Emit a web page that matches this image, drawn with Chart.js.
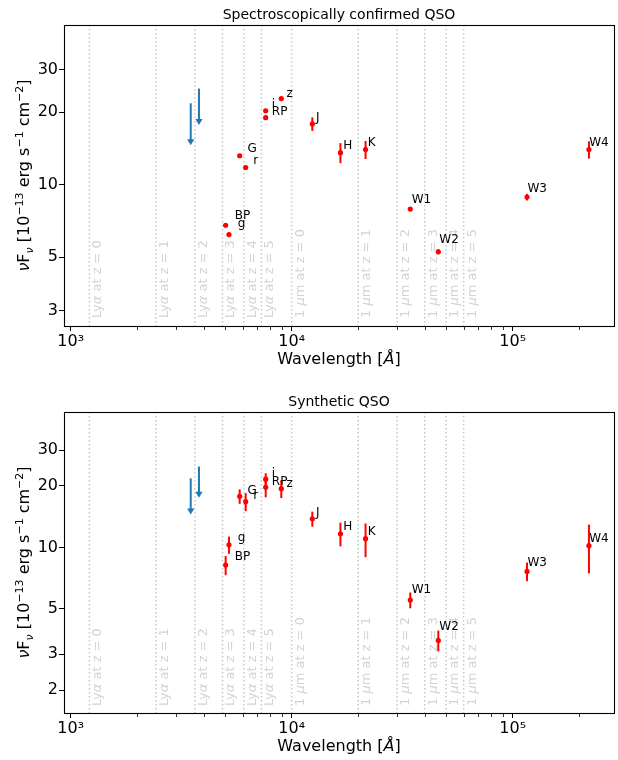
<!DOCTYPE html>
<html><head><meta charset="utf-8">
<script src="https://cdn.jsdelivr.net/npm/chart.js@4/dist/chart.umd.min.js"></script>
<style>
html,body{margin:0;padding:0;background:#fff;overflow:hidden;width:618px;height:760px}
canvas{position:absolute;left:0}
</style></head><body>
<canvas id="c1" width="618" height="380" style="top:0px"></canvas>
<canvas id="c2" width="618" height="380" style="top:387px"></canvas>
<script>
// ---------------- DATA ----------------
const bands       = ['BP','g','G','r','i','RP','z','J','H','K','W1','W2','W3','W4'];
const wavelengths = [5027, 5203, 5817, 6193, 7630, 7630, 8974, 12400, 16620, 21590, 34400, 46070, 116100, 221300];

const specFlux = [6.79, 6.21, 13.2, 11.8, 20.3, 19.0, 22.8, 17.9, 13.6, 14.0, 7.93, 5.27, 8.89, 14.0];
const specErr  = [0.12, 0.1, 0.15, 0.15, 0.2, 0.2, 0.25, 1.15, 1.3, 1.2, 0.12, 0.13, 0.28, 1.15];

const synFlux  = [8.19, 10.3, 17.8, 16.75, 21.6, 19.7, 19.4, 13.8, 11.67, 11.03, 5.52, 3.50, 7.63, 10.2];
const synErr   = [0.88, 1.0, 1.45, 1.7, 1.5, 2.1, 1.95, 1.17, 1.55, 2.07, 0.49, 0.41, 0.8, 2.74];

const ulWave    = [3493, 3806];
const specUlTop = [21.8, 25.1];
const specUlTip = [14.6, 17.7];
const synUlTop  = [21.8, 24.9];
const synUlTip  = [14.5, 17.5];

const xTicks      = [1000, 10000, 100000];
const xTickLabels = ['10\u00B3', '10\u2074', '10\u2075'];
const xMinorTicks = [2000,3000,4000,5000,6000,7000,8000,9000,20000,30000,40000,50000,60000,70000,80000,90000,200000];
const specYTicks  = [3, 5, 10, 20, 30];
const synYTicks   = [2, 3, 5, 10, 20, 30];

const lyaRest    = 1216;
const micronRest = 10000;
const redshifts  = [0, 1, 2, 3, 4, 5];

const titles = ['Spectroscopically confirmed QSO', 'Synthetic QSO'];

// ---------------- STYLE ----------------
const FONT = "'DejaVu Sans'";
const LABEL_DX = 500;   // Angstrom offset of band labels
const LABEL_DY = 0.45;  // flux offset of band labels

function drawRich(ctx, segs, x, y) {
  let cx = x;
  for (const s of segs) {
    ctx.font = s[1];
    ctx.fillText(s[0], cx, y + (s[2] || 0));
    cx += ctx.measureText(s[0]).width;
  }
}
function richWidth(ctx, segs) {
  let w = 0;
  for (const s of segs) { ctx.font = s[1]; w += ctx.measureText(s[0]).width; }
  return w;
}

function makePlugin(p) {
  return {
    id: 'sedDecor',
    beforeDatasetsDraw(chart) {
      const ctx = chart.ctx, a = chart.chartArea, xs = chart.scales.x, ys = chart.scales.y;
      ctx.save();
      // vertical reference lines
      const lines = [];
      redshifts.forEach(z => lines.push({w: lyaRest * (1 + z), segs: [['Ly', `13px ${FONT}`], ['\u03B1', `italic 13px ${FONT}`], [' at z = ' + z, `13px ${FONT}`]]}));
      redshifts.forEach(z => lines.push({w: micronRest * (1 + z), segs: [['1 ', `13px ${FONT}`], ['\u03BC', `italic 13px ${FONT}`], ['m at z = ' + z, `13px ${FONT}`]]}));
      ctx.strokeStyle = '#c8c8c8';
      ctx.lineWidth = 1.5;
      ctx.setLineDash([1.5, 2.5]);
      lines.forEach(l => {
        const px = xs.getPixelForValue(l.w);
        ctx.beginPath(); ctx.moveTo(px, a.top); ctx.lineTo(px, a.bottom); ctx.stroke();
      });
      ctx.setLineDash([]);
      ctx.fillStyle = '#d3d3d3';
      ctx.textBaseline = 'top';
      ctx.textAlign = 'left';
      lines.forEach(l => {
        const px = xs.getPixelForValue(l.w);
        ctx.save();
        ctx.translate(px + 2, a.bottom - p.textBottom);
        ctx.rotate(-Math.PI / 2);
        drawRich(ctx, l.segs, 0, 0);
        ctx.restore();
      });
      // error bars
      ctx.strokeStyle = '#ff0000';
      ctx.lineWidth = 2;
      wavelengths.forEach((w, i) => {
        const px = xs.getPixelForValue(w);
        const y1 = ys.getPixelForValue(p.flux[i] - p.err[i]);
        const y2 = ys.getPixelForValue(p.flux[i] + p.err[i]);
        ctx.beginPath(); ctx.moveTo(px, y1); ctx.lineTo(px, y2); ctx.stroke();
      });
      ctx.restore();
    },
    afterDatasetsDraw(chart) {
      const ctx = chart.ctx, a = chart.chartArea, xs = chart.scales.x, ys = chart.scales.y;
      ctx.save();
      // upper limit arrows
      ctx.strokeStyle = '#1f77b4'; ctx.fillStyle = '#1f77b4'; ctx.lineWidth = 2;
      ulWave.forEach((w, j) => {
        const px = xs.getPixelForValue(w);
        const pt = ys.getPixelForValue(p.ulTop[j]);
        const pb = ys.getPixelForValue(p.ulTip[j]);
        ctx.beginPath(); ctx.moveTo(px, pt); ctx.lineTo(px, pb - 3); ctx.stroke();
        ctx.beginPath(); ctx.moveTo(px - 3.6, pb - 6); ctx.lineTo(px + 3.6, pb - 6); ctx.lineTo(px, pb); ctx.closePath(); ctx.fill();
      });
      // band labels
      ctx.fillStyle = '#000'; ctx.font = `12px ${FONT}`; ctx.textAlign = 'left'; ctx.textBaseline = 'alphabetic';
      bands.forEach((b, i) => {
        ctx.fillText(b, xs.getPixelForValue(wavelengths[i] + LABEL_DX), ys.getPixelForValue(p.flux[i] + LABEL_DY));
      });
      // frame
      ctx.strokeStyle = '#000'; ctx.lineWidth = 1.1;
      ctx.strokeRect(a.left + 0.5, a.top + 0.5, a.right - a.left, a.bottom - a.top);
      // minor x ticks
      ctx.lineWidth = 0.8;
      xMinorTicks.forEach(v => {
        const px = Math.round(xs.getPixelForValue(v)) + 0.5;
        ctx.beginPath(); ctx.moveTo(px, a.bottom + 1); ctx.lineTo(px, a.bottom + 4); ctx.stroke();
      });
      // title
      ctx.fillStyle = '#000'; ctx.font = `14px ${FONT}`; ctx.textAlign = 'center'; ctx.textBaseline = 'alphabetic';
      ctx.fillText(p.title, (a.left + a.right) / 2, a.top - 6);
      // x label
      const xl = [['Wavelength [', `16px ${FONT}`], ['\u00C5', `italic 16px ${FONT}`], [']', `16px ${FONT}`]];
      ctx.textAlign = 'left';
      drawRich(ctx, xl, (a.left + a.right) / 2 - richWidth(ctx, xl) / 2, a.bottom + 38);
      // y label
      const yl = [['\u03BD', `italic 16px ${FONT}`], ['F', `16px ${FONT}`], ['\u03BD', `italic 11px ${FONT}`, 3.5],
                  [' [10', `16px ${FONT}`], ['\u221213', `11px ${FONT}`, -6.5], [' erg s', `16px ${FONT}`],
                  ['\u22121', `11px ${FONT}`, -6.5], [' cm', `16px ${FONT}`], ['\u22122', `11px ${FONT}`, -6.5], [']', `16px ${FONT}`]];
      ctx.save();
      ctx.translate(29, (a.top + a.bottom) / 2);
      ctx.rotate(-Math.PI / 2);
      drawRich(ctx, yl, -richWidth(ctx, yl) / 2, 0);
      ctx.restore();
      ctx.restore();
    }
  };
}

function makeChart(id, p) {
  return new Chart(document.getElementById(id), {
    type: 'scatter',
    data: { datasets: [{
      data: wavelengths.map((w, i) => ({x: w, y: p.flux[i]})),
      pointRadius: 2.6, pointBackgroundColor: '#ff0000', pointBorderWidth: 0, showLine: false
    }]},
    options: {
      responsive: false, animation: false, devicePixelRatio: 1, events: [],
      layout: { padding: { top: 25, right: 4, left: 0, bottom: 0 } },
      plugins: { legend: { display: false }, tooltip: { enabled: false }, title: { display: false } },
      scales: {
        x: {
          type: 'logarithmic', min: 933, max: 287300,
          afterBuildTicks: s => { s.ticks = xTicks.map(v => ({value: v})); },
          afterFit: s => { s.height = 54; },
          ticks: { callback: (v, i) => xTickLabels[i], font: { family: FONT, size: 16 }, color: '#000', padding: 1, autoSkip: false, maxRotation: 0, minRotation: 0 },
          grid: { drawOnChartArea: false, drawTicks: true, tickLength: 5, tickColor: '#000', tickWidth: 1 },
          border: { display: false }
        },
        y: {
          type: 'logarithmic', min: p.yMin, max: 46.1,
          afterBuildTicks: s => { s.ticks = p.yTicks.map(v => ({value: v})); },
          afterFit: s => { s.width = 64; },
          ticks: { callback: v => String(v), font: { family: FONT, size: 16 }, color: '#000', padding: 1, autoSkip: false },
          grid: { drawOnChartArea: false, drawTicks: true, tickLength: 5, tickColor: '#000', tickWidth: 1 },
          border: { display: false }
        }
      }
    },
    plugins: [makePlugin(p)]
  });
}

makeChart('c1', { flux: specFlux, err: specErr, ulTop: specUlTop, ulTip: specUlTip, yMin: 2.591, yTicks: specYTicks, title: titles[0], textBottom: 8 });
makeChart('c2', { flux: synFlux, err: synErr, ulTop: synUlTop, ulTip: synUlTip, yMin: 1.543, yTicks: synYTicks, title: titles[1], textBottom: 7 });
</script>
</body></html>
